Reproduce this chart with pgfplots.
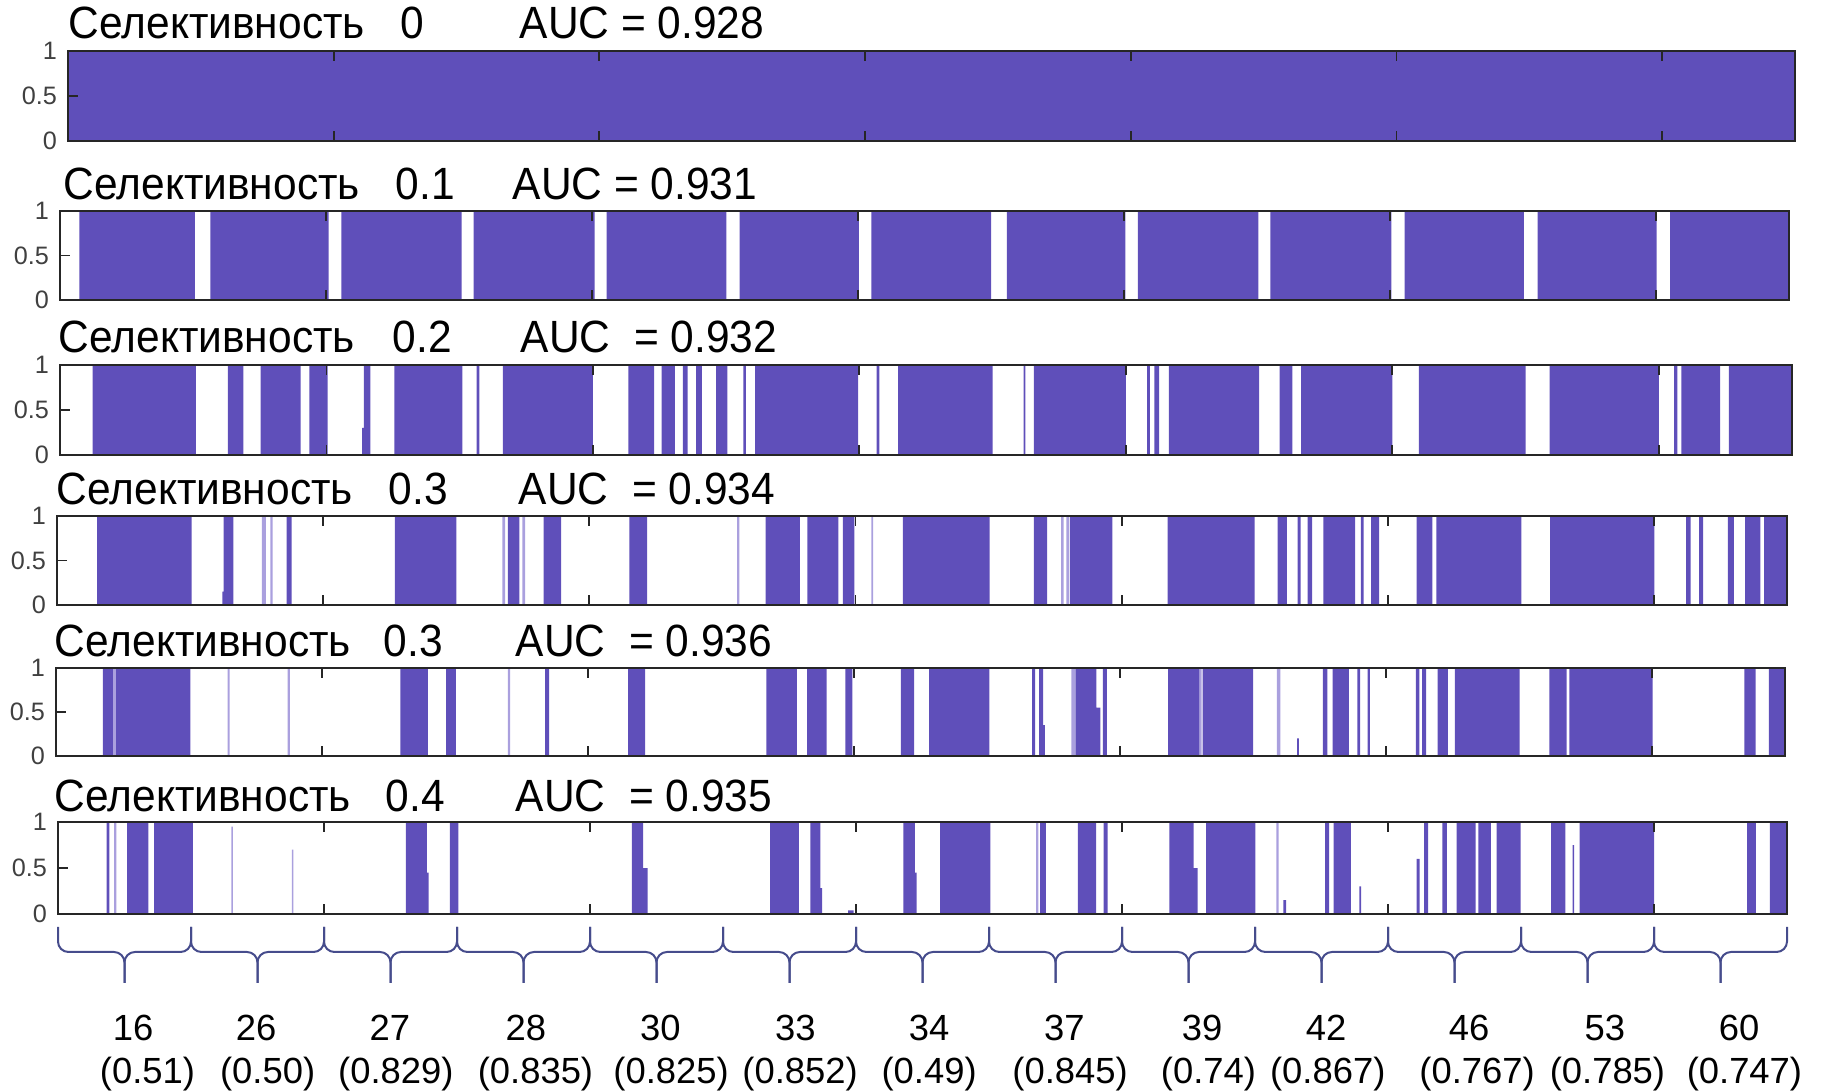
\documentclass[border=0pt]{standalone}
\usepackage{fontspec}
\setmainfont{Liberation Sans}
\newfontfamily\tf[FakeStretch=0.94]{Liberation Sans}
\usepackage{pgfplots}
\pgfplotsset{compat=1.18}
\definecolor{bc}{RGB}{95,79,186}
\definecolor{bcl}{RGB}{170,160,222}
\definecolor{brc}{RGB}{70,76,140}
\pgfplotsset{panel/.style={
  scale only axis, anchor=north west,
  xmin=0, xmax=13, ymin=0, ymax=1,
  xtick={2,4,6,8,10,12}, xticklabels={},
  ytick={0,0.5,1}, yticklabels={0,0.5,1},
  ytick pos=left,
  tick align=inside, major tick length=2.5pt,
  axis line style={draw=black!85, line width=0.45pt},
  every tick/.style={draw=black!85, line width=0.45pt},
  yticklabel style={font=\fontsize{6.3}{7}\selectfont, text=black!75, inner sep=0pt, xshift=-2.6pt},
  axis on top,
}}
\newcommand\brc[3]{%
  \draw[brc, line width=0.5pt, rounded corners=2.6pt] (axis cs:#1,-0.141) -- (axis cs:#1,-0.413) -- (axis cs:#2,-0.413) -- (axis cs:#2,-0.75);
  \draw[brc, line width=0.5pt, rounded corners=2.6pt] (axis cs:#3,-0.141) -- (axis cs:#3,-0.413) -- (axis cs:#2,-0.413) -- (axis cs:#2,-0.75);}
\newcommand\ttl[6]{%
  \node[anchor=west, inner sep=0pt, font=\tf\fontsize{11.3}{13}\selectfont] at (#1pt,-#2pt) {Селективность};
  \node[anchor=west, inner sep=0pt, font=\tf\fontsize{11.3}{13}\selectfont] at (#3pt,-#2pt) {#4};
  \node[anchor=west, inner sep=0pt, font=\tf\fontsize{11.3}{13}\selectfont] at (#5pt,-#2pt) {#6};}
\begin{document}
\begin{tikzpicture}
\path[use as bounding box] (0,0) rectangle (456pt,-272.75pt);
\ttl{17}{5.75}{100}{0}{129.75}{AUC = 0.928}
\ttl{15.75}{46}{98.75}{0.1}{128}{AUC = 0.931}
\ttl{14.5}{84.25}{98}{0.2}{130}{AUC\ \ = 0.932}
\ttl{14}{122.25}{97}{0.3}{129.5}{AUC\ \ = 0.934}
\ttl{13.5}{160.25}{95.75}{0.3}{128.75}{AUC\ \ = 0.936}
\ttl{13.5}{199}{96.25}{0.4}{128.75}{AUC\ \ = 0.935}

% Panel 1
\begin{axis}[panel, at={(17pt,-12.75pt)}, width=431.75pt, height=22.5pt]
\addplot[const plot, fill=bc, draw=none] coordinates {(0,1)(13,1)} \closedcycle;
\end{axis}

% Panel 2
\begin{axis}[panel, at={(15pt,-52.75pt)}, width=432.25pt, height=22.25pt]
\addplot[const plot, fill=bc, draw=none] coordinates {(0,0)(0.145,1)(1.015,0)(1.13,1)(2.02,0)(2.115,1)(3.02,0)(3.11,1)(4.02,0)(4.11,1)(5.01,0)(5.11,1)(6.007,0)(6.1,1)(7.0,0)(7.12,1)(8.01,0)(8.105,1)(9.01,0)(9.1,1)(10.01,0)(10.11,1)(11.007,0)(11.11,1)(12.005,0)(12.107,1)(13,1)} \closedcycle;
\end{axis}

% Panel 3
\begin{axis}[panel, at={(15pt,-91.25pt)}, width=433pt, height=22.5pt]
\addplot[const plot, fill=bc, draw=none] coordinates {(0,0)(0.245,1)(1.019,0)(1.26,1)(1.376,0)(1.505,1)(1.806,0)(1.871,1)(2.009,0)(2.267,0.3)(2.28,1)(2.33,0)(2.51,1)(3.02,0)(3.127,1)(3.148,0)(3.325,1)(4.0,0)(4.267,1)(4.46,0)(4.516,1)(4.615,0)(4.675,1)(4.71,0)(4.774,1)(4.817,0)(4.925,1)(5.01,0)(5.13,1)(5.148,0)(5.217,1)(5.99,0)(6.129,1)(6.15,0)(6.29,1)(7.0,0)(7.233,1)(7.246,0)(7.31,1)(8.0,0)(8.16,1)(8.18,0)(8.215,1)(8.25,0)(8.323,1)(9.0,0)(9.155,1)(9.25,0)(9.315,1)(10.0,0)(10.2,1)(11.0,0)(11.18,1)(12.0,0)(12.116,1)(12.14,0)(12.17,1)(12.46,0)(12.526,1)(13,1)} \closedcycle;
\end{axis}

% Panel 4
\begin{axis}[panel, at={(14.25pt,-129pt)}, width=432.5pt, height=22.25pt]
\addplot[const plot, fill=bc, draw=none] coordinates {(0,0)(0.301,1)(1.011,0)(1.243,0.15)(1.252,1)(1.325,0)(1.725,1)(1.763,0)(2.538,1)(3.002,0)(3.389,1)(3.475,0)(3.656,1)(3.789,0)(4.301,1)(4.434,0)(5.325,1)(5.583,0)(5.639,1)(5.871,0)(5.905,1)(5.991,0)(6.357,1)(7.009,0)(7.34,1)(7.44,0)(7.612,1)(7.93,0)(8.345,1)(9.0,0)(9.172,1)(9.241,0)(9.323,1)(9.345,0)(9.397,1)(9.431,0)(9.517,1)(9.754,0)(9.797,1)(9.819,0)(9.875,1)(9.935,0)(10.216,1)(10.336,0)(10.366,1)(11.004,0)(11.22,1)(12.004,0)(12.241,1)(12.276,0)(12.34,1)(12.37,0)(12.556,1)(12.6,0)(12.685,1)(12.8,0)(12.828,1)(13,1)} \closedcycle;
\addplot[const plot, fill=bcl, draw=none] coordinates {(0,0)(1.54,1)(1.57,0)(1.604,1)(1.62,0)(3.346,1)(3.368,0)(3.497,1)(3.518,0)(5.11,1)(5.127,0)(6.12,1)(6.133,0)(7.545,1)(7.565,0)(7.585,1)(7.605,0)(13,0)} \closedcycle;
\end{axis}

% Panel 5
\begin{axis}[panel, at={(14pt,-167pt)}, width=432.25pt, height=22pt]
\addplot[const plot, fill=bc, draw=none] coordinates {(0,0)(0.353,1)(1.011,0)(2.589,1)(2.796,0)(2.933,1)(3.006,0)(3.677,1)(3.708,0)(4.301,1)(4.43,0)(5.342,1)(5.57,0)(5.647,1)(5.794,0)(5.935,1)(5.987,0)(6.353,1)(6.452,0)(6.565,1)(7.017,0)(7.34,1)(7.362,0)(7.392,1)(7.422,0.35)(7.435,0)(7.664,1)(7.823,0.55)(7.853,0)(7.871,1)(7.901,0)(8.362,1)(8.599,0)(8.621,1)(9.0,0)(9.332,0.2)(9.345,0)(9.526,1)(9.56,0)(9.599,1)(9.72,0)(9.784,1)(9.806,0)(9.862,1)(9.879,0)(10.224,1)(10.25,0)(10.272,1)(10.302,0)(10.388,1)(10.466,0)(10.517,1)(11.004,0)(11.228,1)(11.358,0)(11.379,1)(12.004,0)(12.694,1)(12.78,0)(12.879,1)(13,1)} \closedcycle;
\addplot[const plot, fill=bcl, draw=none] coordinates {(0,0)(0.43,1)(0.45,0)(1.29,1)(1.305,0)(1.742,1)(1.758,0)(3.398,1)(3.414,0)(7.635,1)(7.664,0)(8.599,1)(8.613,0)(9.18,1)(9.205,0)(13,0)} \closedcycle;
\end{axis}

% Panel 6 with braces and group labels
\begin{axis}[panel, at={(14.5pt,-205.5pt)}, width=432.25pt, height=23pt, clip=false]
\addplot[const plot, fill=bc, draw=none] coordinates {(0,0)(0.366,1)(0.387,0)(0.52,1)(0.68,0)(0.723,1)(1.015,0)(2.615,1)(2.774,0.45)(2.787,0)(2.946,1)(3.011,0)(4.314,1)(4.40,0.5)(4.434,0)(5.355,1)(5.57,0)(5.656,1)(5.733,0.28)(5.746,0)(5.94,0.04)(5.983,0)(6.357,1)(6.443,0.45)(6.456,0)(6.632,1)(7.011,0)(7.385,1)(7.428,0)(7.669,1)(7.806,0)(7.862,1)(7.892,0)(8.357,1)(8.538,0.5)(8.568,0)(8.632,1)(9.002,0)(9.213,0.15)(9.234,0)(9.527,1)(9.557,0)(9.591,1)(9.72,0)(9.785,0.3)(9.798,0)(10.215,0.6)(10.237,0)(10.271,1)(10.301,0)(10.409,1)(10.443,0)(10.516,1)(10.658,0)(10.68,1)(10.774,0)(10.817,1)(10.998,0)(11.226,1)(11.333,0)(11.389,0.75)(11.4,0)(11.441,1)(12.0,0)(12.701,1)(12.766,0)(12.871,1)(13,1)} \closedcycle;
\addplot[const plot, fill=bcl, draw=none] coordinates {(0,0)(0.422,1)(0.438,0)(1.303,0.95)(1.314,0)(1.759,0.7)(1.77,0)(7.355,1)(7.372,0)(9.161,1)(9.178,0)(13,0)} \closedcycle;
\brc{0}{0.5}{1}\brc{1}{1.5}{2}\brc{2}{2.5}{3}\brc{3}{3.5}{4}\brc{4}{4.5}{5}
\brc{5}{5.5}{6}\brc{6}{6.5}{7}\brc{7}{7.5}{8}\brc{8}{8.5}{9}\brc{9}{9.5}{10}
\brc{10}{10.5}{11}\brc{11}{11.5}{12}\brc{12}{12.5}{13}
\begin{scope}[every node/.style={anchor=base, inner sep=0pt, font=\fontsize{9.1}{11}\selectfont}]
\node at (axis cs:0.565,-1.38) {16};
\node at (axis cs:1.49,-1.38) {26};
\node at (axis cs:2.495,-1.38) {27};
\node at (axis cs:3.517,-1.38) {28};
\node at (axis cs:4.53,-1.38) {30};
\node at (axis cs:5.545,-1.38) {33};
\node at (axis cs:6.55,-1.38) {34};
\node at (axis cs:7.566,-1.38) {37};
\node at (axis cs:8.603,-1.38) {39};
\node at (axis cs:9.535,-1.38) {42};
\node at (axis cs:10.61,-1.38) {46};
\node at (axis cs:11.63,-1.38) {53};
\node at (axis cs:12.64,-1.38) {60};
\node at (axis cs:0.673,-1.845) {(0.51)};
\node at (axis cs:1.576,-1.845) {(0.50)};
\node at (axis cs:2.54,-1.845) {(0.829)};
\node at (axis cs:3.59,-1.845) {(0.835)};
\node at (axis cs:4.61,-1.845) {(0.825)};
\node at (axis cs:5.58,-1.845) {(0.852)};
\node at (axis cs:6.55,-1.845) {(0.49)};
\node at (axis cs:7.61,-1.845) {(0.845)};
\node at (axis cs:8.65,-1.845) {(0.74)};
\node at (axis cs:9.547,-1.845) {(0.867)};
\node at (axis cs:10.67,-1.845) {(0.767)};
\node at (axis cs:11.65,-1.845) {(0.785)};
\node at (axis cs:12.68,-1.845) {(0.747)};
\end{scope}
\end{axis}
\end{tikzpicture}
\end{document}
